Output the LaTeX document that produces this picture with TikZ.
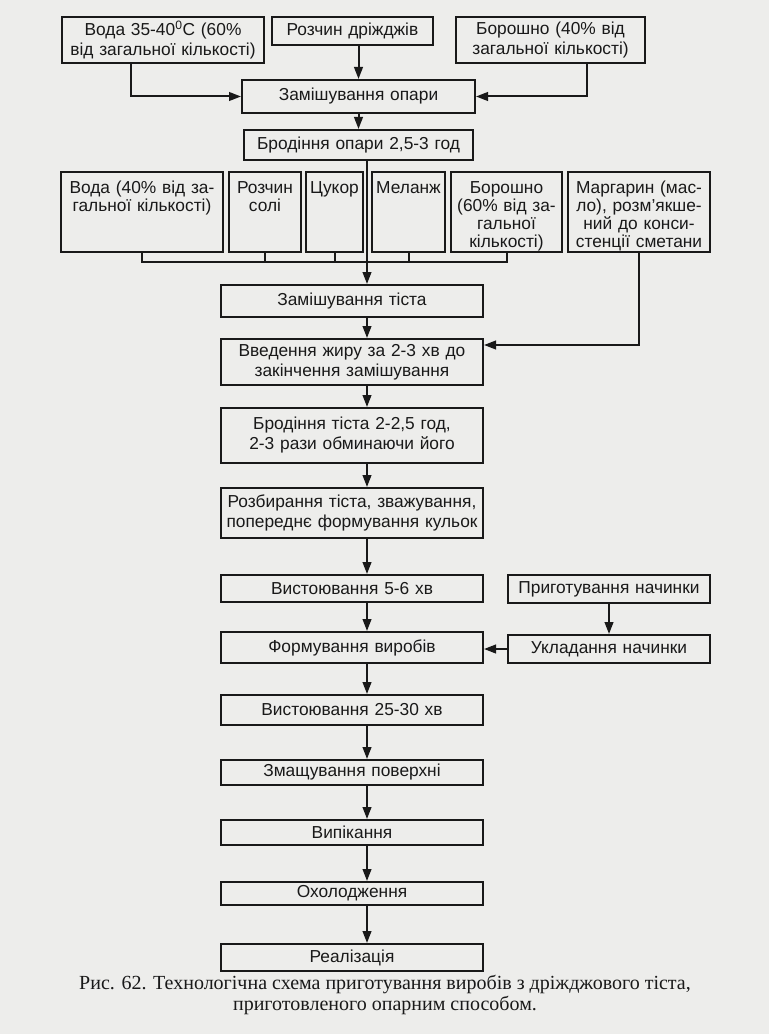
\documentclass[tikz,border=0pt]{standalone}
\usepackage{fontspec}
\setmainfont{Liberation Sans}
\newfontfamily\captionserif{Liberation Serif}
\usetikzlibrary{arrows.meta}
\definecolor{mpaper}{rgb}{0.93,0.93,0.92}
\definecolor{mink}{rgb}{0.1,0.1,0.1}
\newdimen\pxu
\pxu=0.75pt

\begin{document}
\begin{tikzpicture}[x=0.75pt,y=-0.75pt,
		color=mink,line width=1.5pt,
		stepbox/.style={draw,align=center,inner xsep=2\pxu,inner ysep=2\pxu,
			font=\fontsize{13pt}{15pt}\selectfont},
		mainbox/.style={stepbox,text width=258\pxu},
		ingbox/.style={stepbox,anchor=north,text height=20\pxu,text depth=56\pxu,
			font=\fontsize{13pt}{13.5pt}\selectfont},
		flow/.style={-{Triangle[length=9pt,width=6.5pt]}}
	]
	\fill[mpaper] (0,0) rectangle (769,1034);
	\useasboundingbox (0,0) rectangle (769,1034);
	\coordinate (axis) at (367,0);
	\coordinate (bus) at (0,262);

	% the sponge
	\node[stepbox,text width=198\pxu,minimum height=46\pxu] (voda1) at (163,40)
		{Вода 35-40\textsuperscript{0}С (60\%\\від загальної кількості)};
	\node[stepbox,text width=157\pxu,minimum height=28\pxu] (drizhdzhi) at (352.5,31) {Розчин дріжджів};
	\node[stepbox,text width=185\pxu,minimum height=46\pxu] (boroshno1) at (550.5,40)
		{Борошно (40\% від\\загальної кількості)};
	\node[stepbox,text width=229\pxu,minimum height=33\pxu] (opara) at (358.5,96.5) {Замішування опари};
	\node[stepbox,text width=225\pxu,minimum height=30\pxu] (brodinnya1) at (358.5,145) {Бродіння опари 2,5-3 год};

	% the other ingredients
	\foreach \name/\xc/\tw/\txt in {
		voda2/142/158/{Вода (40\% від за-\\гальної кількості)},
		solj/265/68/{Розчин\\солі},
		tsukor/334.5/53/{Цукор},
		melanzh/408.5/69/{Меланж},
		boroshno2/506.5/107/{Борошно\\(60\% від за-\\гальної\\кількості)},
		margaryn/639/138/{Маргарин (мас-\\ло), розм’якше-\\ний до конси-\\стенції сметани}}
		\node[ingbox,text width=\tw\pxu] (\name) at (\xc,171) {\txt};

	% the dough
	\foreach \name/\yc/\h/\txt in {
		tisto1/301/32/{Замішування тіста},
		vvedennya/362/46/{Введення жиру за 2-3 хв до\\закінчення замішування},
		brodinnya2/435.5/55/{Бродіння тіста 2-2,5 год,\\2-3 рази обминаючи його},
		rozbyrannya/513/50/{Розбирання тіста, зважування,\\попереднє формування кульок},
		vystoyuvannya1/588.5/27/{Вистоювання 5-6 хв},
		formuvannya/647.5/31/{Формування виробів},
		vystoyuvannya2/710/30/{Вистоювання 25-30 хв},
		zmashchuvannya/772.5/25/{Змащування поверхні},
		vypikannya/832.5/25/{Випікання},
		okholodzhennya/893.5/23/{Охолодження},
		realizatsiya/957.5/27/{Реалізація}}
		\node[mainbox,minimum height=\h\pxu] (\name) at (352,\yc) {\txt};

	% the filling
	\node[stepbox,text width=198\pxu,minimum height=28\pxu] (pryhotuvannya) at (609,589) {Приготування начинки};
	\node[stepbox,text width=198\pxu,minimum height=28\pxu] (ukladannya) at (609,649) {Укладання начинки};

	% the caption
	\node[font=\captionserif\fontsize{15pt}{15.5pt}\selectfont,align=center] (caption) at (385,995)
		{Рис. 62. Технологічна схема приготування виробів з дріжджового тіста,\\приготовленого опарним способом.};

	% the edges
	\draw[flow] ([xshift=-32\pxu]voda1.south) |- (opara.west);
	\draw[flow] (drizhdzhi.south -| opara.north) -- (opara.north);
	\draw[flow] ([xshift=36.5\pxu]boroshno1.south) |- (opara.east);
	\draw[flow] (opara.south) -- (brodinnya1.north);
	\draw[flow] (brodinnya1.south -| axis) -- (tisto1.north -| axis);
	\draw (voda2.south) |- (boroshno2.south |- bus) -- (boroshno2.south);
	\foreach \name in {solj,tsukor,melanzh}
		\draw (\name.south) -- (\name.south |- bus);
	\draw[flow] (margaryn.south) |- ([yshift=17\pxu]vvedennya.east);
	\foreach \a/\b in {tisto1/vvedennya,vvedennya/brodinnya2,brodinnya2/rozbyrannya,
		rozbyrannya/vystoyuvannya1,vystoyuvannya1/formuvannya,formuvannya/vystoyuvannya2,
		vystoyuvannya2/zmashchuvannya,zmashchuvannya/vypikannya,vypikannya/okholodzhennya,
		okholodzhennya/realizatsiya}
		\draw[flow] (\a.south -| axis) -- (\b.north -| axis);
	\draw[flow] (pryhotuvannya) -- (ukladannya);
	\draw[flow] (ukladannya.west) -- (ukladannya.west -| formuvannya.east);
\end{tikzpicture}
\end{document}
